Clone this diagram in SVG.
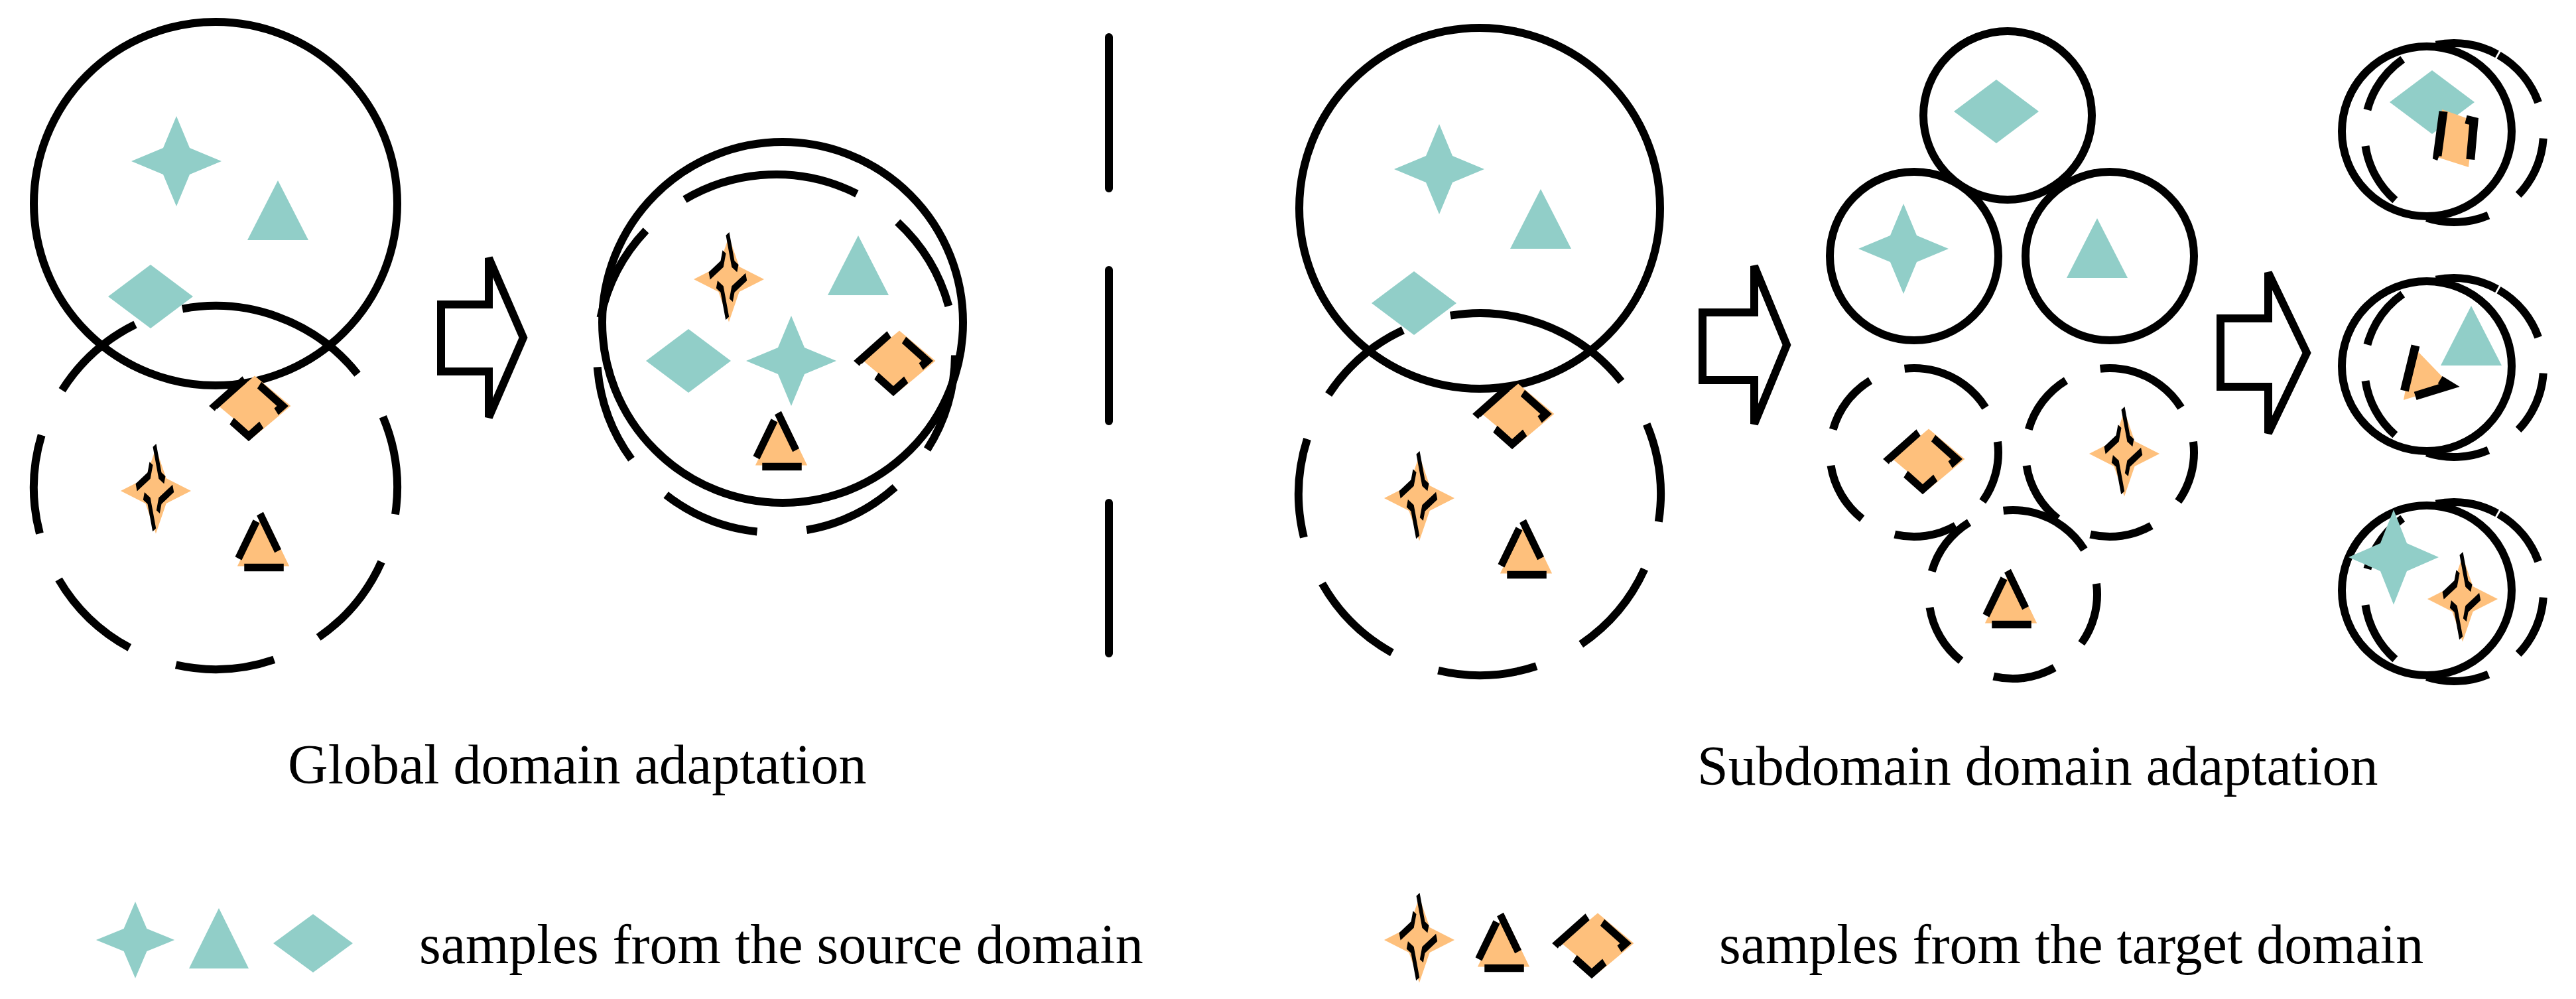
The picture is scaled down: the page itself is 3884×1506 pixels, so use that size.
<svg xmlns="http://www.w3.org/2000/svg" width="3884" height="1506" viewBox="0 0 3884 1506" xmlns:xlink="http://www.w3.org/1999/xlink">
<style>
.s{fill:none;stroke:#000;stroke-width:12}
.d{fill:none;stroke:#000;stroke-width:12;stroke-dasharray:150 75}
.ds{fill:none;stroke:#000;stroke-width:12;stroke-dasharray:95 55}
.t{fill:#91cec8}
.o{fill:#fec07c}
.ol{fill:none;stroke:#000;stroke-width:13;stroke-dasharray:70 35;vector-effect:non-scaling-stroke}
.ar{fill:#fff;stroke:#000;stroke-width:12}
text{font-family:"Liberation Serif",serif;font-size:84px;fill:#000}
</style>
<defs>
<path id="star" d="M0,-68 L20,-20 L68,0 L20,20 L0,68 L-20,20 L-68,0 L-20,-20Z"/>
<path id="tri" d="M0,-55 L46,35 L-46,35Z"/>
<path id="dia" d="M-64,0 L0,-48 L64,0 L0,48Z"/>
<g id="ostar"><use xlink:href="#star" class="o" transform="scale(0.78,0.95)"/><use xlink:href="#star" class="ol" transform="translate(-2,-4) scale(0.42,0.95)"/></g>
<g id="otri"><use xlink:href="#tri" class="o" transform="scale(0.85,0.9)"/><use xlink:href="#tri" class="ol" transform="translate(-5,2) scale(0.85,0.9)"/></g>
<g id="odia"><use xlink:href="#dia" class="o" transform="scale(0.85,0.95)"/><use xlink:href="#dia" class="ol" transform="translate(-9,0) scale(0.8,0.95)"/></g>
</defs>

<g id="global-source"><circle class="s" cx="325" cy="307" r="274"/>
<use xlink:href="#star" class="t" x="266" y="243"/><use xlink:href="#tri" class="t" x="419" y="327"/><use xlink:href="#dia" class="t" x="227" y="447"/></g>
<g id="global-target"><circle class="d" cx="325" cy="735" r="274" transform="rotate(-70 325 735)"/>
<use xlink:href="#odia" x="384" y="612"/><use xlink:href="#ostar" x="235" y="740"/><use xlink:href="#otri" x="397" y="822"/></g>

<g id="global-merged"><circle class="s" cx="1180" cy="486" r="272"/><circle class="d" cx="1170" cy="533" r="270" transform="rotate(-95 1170 533)"/>
<use xlink:href="#ostar" x="1099" y="421"/><use xlink:href="#tri" class="t" x="1294" y="410"/><use xlink:href="#dia" class="t" x="1038" y="544"/>
<use xlink:href="#star" class="t" x="1193" y="544"/><use xlink:href="#odia" x="1356" y="544"/><use xlink:href="#otri" x="1178" y="670"/></g>

<g id="sub-source"><circle class="s" cx="2231" cy="314" r="272"/>
<use xlink:href="#star" class="t" x="2170" y="255"/><use xlink:href="#tri" class="t" x="2323" y="340"/><use xlink:href="#dia" class="t" x="2132" y="457"/></g>
<g id="sub-target"><circle class="d" cx="2231" cy="745" r="273" transform="rotate(-70 2231 745)"/>
<use xlink:href="#odia" x="2289" y="624"/><use xlink:href="#ostar" x="2140" y="751"/><use xlink:href="#otri" x="2301" y="833"/></g>

<g id="sub1"><circle class="s" cx="3027" cy="174" r="127"/><use xlink:href="#dia" class="t" x="3010" y="168"/></g>
<g id="sub2"><circle class="s" cx="2886" cy="386" r="127"/><use xlink:href="#star" class="t" x="2870" y="375"/></g>
<g id="sub3"><circle class="s" cx="3181" cy="386" r="127"/><use xlink:href="#tri" class="t" x="3162" y="384"/></g>
<g id="sub4"><circle class="ds" cx="2886" cy="682" r="127" transform="rotate(-75 2886 682)"/><use xlink:href="#odia" x="2908" y="692"/></g>
<g id="sub5"><circle class="ds" cx="3181" cy="682" r="127" transform="rotate(-75 3181 682)"/><use xlink:href="#ostar" x="3203" y="684"/></g>
<g id="sub6"><circle class="ds" cx="3035" cy="896" r="127" transform="rotate(-75 3035 896)"/><use xlink:href="#otri" x="3032" y="908"/></g>

<g id="aligned1"><circle class="s" cx="3659" cy="198" r="128"/><circle class="ds" cx="3700" cy="200" r="135" transform="rotate(-60 3700 200)"/>
<use xlink:href="#dia" class="t" x="3667" y="154"/>
<path class="o" d="M3682,165 L3730,182 L3722,252 L3675,237Z"/><path class="ol" d="M3684,168 L3675,235 L3700,244 M3718,180 L3730,183 L3724,250"/></g>
<g id="aligned2"><circle class="s" cx="3659" cy="552" r="128"/><circle class="ds" cx="3700" cy="554" r="135" transform="rotate(-60 3700 554)"/>
<use xlink:href="#tri" class="t" x="3726" y="516"/>
<path class="o" d="M3639,523 L3695,581 L3624,603Z"/><path class="ol" d="M3642,521 L3622,603 L3693,581 L3675,570"/></g>
<g id="aligned3"><circle class="s" cx="3659" cy="890" r="128"/><circle class="ds" cx="3700" cy="892" r="135" transform="rotate(-60 3700 892)"/>
<use xlink:href="#star" class="t" x="3609" y="840" transform="translate(3609,840) scale(1,1.05) translate(-3609,-840)"/><use xlink:href="#ostar" x="3713" y="903"/></g>

<g id="connectors">
<path class="ar" d="M665,459 H737 V389 L789,509 L737,629 V560 H665Z"/>
<path class="ar" d="M2567,471 H2645 V401 L2694,520 L2645,639 V573 H2567Z"/>
<path class="ar" d="M3348,480 H3420 V411 L3478,532 L3420,653 V583 H3348Z"/>
<line x1="1672" y1="56" x2="1672" y2="985" class="s" style="stroke-dasharray:228 123;stroke-linecap:round"/>
</g>

<g id="labels">
<text x="434" y="1181">Global domain adaptation</text>
<text x="2559" y="1183">Subdomain domain adaptation</text>
</g>
<g id="legend">
<use xlink:href="#star" class="t" x="204" y="1417" transform="translate(204,1417) scale(0.87,0.85) translate(-204,-1417)"/>
<path class="t" d="M330,1369 L375,1460 L285,1460Z"/>
<path class="t" d="M412,1422 L472,1378 L532,1422 L472,1466Z"/>
<text x="632" y="1452">samples from the source domain</text>
<use xlink:href="#ostar" x="2140" y="1417"/><use xlink:href="#otri" x="2267" y="1426"/><use xlink:href="#odia" x="2409" y="1422"/>
<text x="2592" y="1452">samples from the target domain</text>
</g>
</svg>
